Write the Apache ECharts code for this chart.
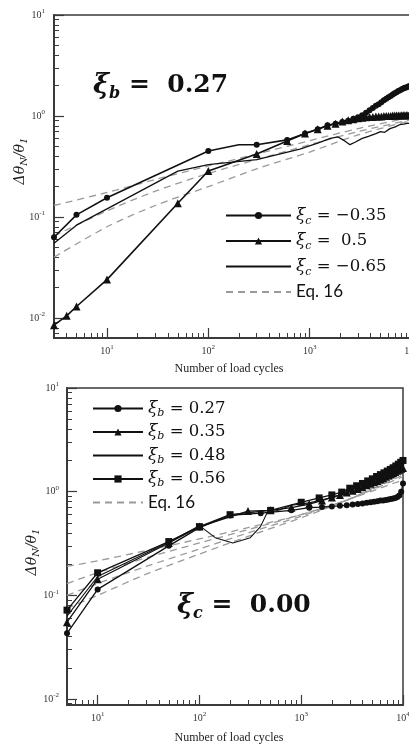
<!DOCTYPE html>
<html><head><meta charset="utf-8">
<script src="https://cdn.jsdelivr.net/npm/echarts@6/dist/echarts.min.js"></script>
<style>html,body{margin:0;padding:0;background:#fff}#c{width:409px;height:746px}</style>
</head><body><div id="c"></div>
<script>
// ---------- TOP PANEL (xi_b = 0.27) ----------
const topCircleN = [3,5,10,100,200,300,600,900,1200,1500,1800,2100,2400,2700,3000,3300,3600,3900,4200,4500,4800,5100,5400,5700,6000,6300,6600,6900,7200,7500,7800,8100,8400,8700,9000,9300,9600,9900];
const topCircleV = [0.063,0.105,0.155,0.45,0.52,0.52,0.58,0.67,0.74,0.81,0.84,0.87,0.9,0.94,0.97,1.02,1.08,1.14,1.2,1.26,1.31,1.37,1.43,1.48,1.53,1.58,1.63,1.68,1.72,1.77,1.8,1.84,1.87,1.9,1.92,1.95,1.97,2.0];
const topTriN = [3,4,5,10,50,100,300,600,900,1200,1500,1800,2100,2400,2700,3000,3300,3600,3900,4200,4500,4800,5100,5400,5700,6000,6300,6600,6900,7200,7500,7800,8100,8400,8700,9000,9300,9600,9900];
const topTriV = [0.0085,0.0105,0.013,0.024,0.137,0.285,0.42,0.565,0.67,0.74,0.8,0.84,0.88,0.91,0.93,0.95,0.96,0.97,0.98,0.98,0.99,0.99,0.99,1.0,1.0,1.0,1.0,1.01,1.01,1.01,1.01,1.01,1.02,1.02,1.02,1.02,1.02,1.02,1.02];
const topSolidN = [3,5,50,100,300,800,1200,1600,1900,2200,2500,2800,3300,3800,4500,5000,5500,6200,7000,7700,8500,9300,10000];
const topSolidV = [0.055,0.083,0.285,0.33,0.37,0.47,0.54,0.6,0.62,0.57,0.52,0.55,0.6,0.63,0.67,0.7,0.69,0.75,0.78,0.82,0.83,0.85,0.84];
const topEqN = [3,10,30,100,300,1000,3000,10000];
const topEqA = [0.13,0.175,0.235,0.32,0.42,0.57,0.75,0.97];
const topEqB = [0.065,0.115,0.18,0.27,0.37,0.52,0.70,0.92];
const topEqC = [0.04,0.08,0.13,0.2,0.3,0.44,0.65,0.9];

// ---------- BOTTOM PANEL (xi_c = 0.00) ----------
const botCircleN = [5,10,50,100,200,400,800,1200,1600,2000,2400,2800,3200,3600,4000,4400,4800,5200,5600,6000,6400,6800,7200,7600,8000,8400,8800,9200,9600,10000];
const botCircleV = [0.043,0.114,0.30,0.45,0.59,0.62,0.66,0.7,0.71,0.72,0.73,0.74,0.75,0.76,0.77,0.78,0.79,0.8,0.81,0.82,0.82,0.83,0.84,0.85,0.86,0.87,0.89,0.92,1.0,1.2];
const botTriN = [5,10,50,100,300,500,800,1200,1600,2000,2400,2800,3200,3600,4000,4400,4800,5200,5600,6000,6400,6800,7200,7600,8000,8400,8800,9200,9600,10000];
const botTriV = [0.055,0.143,0.32,0.46,0.65,0.66,0.7,0.76,0.82,0.88,0.93,0.98,1.02,1.06,1.1,1.15,1.19,1.23,1.27,1.31,1.35,1.39,1.43,1.47,1.51,1.55,1.59,1.63,1.66,1.69];
const botSolidN = [5,10,50,100,143,213,316,398,460,620,800,1200,2000,3000,4000,5000,6000,7000,8000,9000,10000];
const botSolidV = [0.063,0.152,0.325,0.47,0.36,0.32,0.36,0.46,0.62,0.67,0.74,0.78,0.88,1.0,1.1,1.2,1.3,1.4,1.5,1.62,1.8];
const botSquareN = [5,10,50,100,200,500,1000,1500,2000,2500,3000,3500,4000,4500,5000,5500,6000,6500,7000,7500,8000,8500,9000,9500,10000];
const botSquareV = [0.072,0.165,0.33,0.46,0.6,0.66,0.79,0.87,0.93,0.99,1.08,1.14,1.2,1.27,1.33,1.4,1.46,1.52,1.58,1.64,1.7,1.77,1.84,1.92,2.0];
const botEqN = [5,10,30,100,300,1000,3000,10000];
const botEq1 = [0.19,0.215,0.27,0.35,0.45,0.6,0.85,1.3];
const botEq2 = [0.13,0.165,0.23,0.32,0.43,0.6,0.85,1.4];
const botEq3 = [0.1,0.13,0.19,0.28,0.4,0.58,0.85,1.45];
const botEq4 = [0.075,0.1,0.16,0.25,0.37,0.56,0.85,1.5];

// ---------- ticks ----------
const xMajorTicks = [10,100,1000,10000];
const xMinorTicksTop = [3,4,5,6,7,8,9,20,30,40,50,60,70,80,90,200,300,400,500,600,700,800,900,2000,3000,4000,5000,6000,7000,8000,9000];
const xMinorTicksBot = [5,6,7,8,9,20,30,40,50,60,70,80,90,200,300,400,500,600,700,800,900,2000,3000,4000,5000,6000,7000,8000,9000];
const yMajorTicks = [0.01,0.1,1,10];
const yMinorTicks = [0.007,0.008,0.009,0.02,0.03,0.04,0.05,0.06,0.07,0.08,0.09,0.2,0.3,0.4,0.5,0.6,0.7,0.8,0.9,2,3,4,5,6,7,8,9];

const zip = (a,b) => a.map((v,i)=>[v,b[i]]);

const chart = echarts.init(document.getElementById('c'), null, {renderer:'canvas'});
const AX = '#3a3a3a';
const TK = '#3a3a3a';
const tickFmt = v => { const e = Math.round(Math.log10(v)); return '{b|10}{p|' + e + '}'; };
const tickRich = {
  b:{fontFamily:'Liberation Serif', fontSize:10, color:'#333', lineHeight:14},
  p:{fontFamily:'Liberation Serif', fontSize:7, color:'#333', lineHeight:8, verticalAlign:'top'}
};
const GRIDS = [
  {left:54, top:15, width:357, height:323, xmin:3, ymin:0.00634, ymargin:9, xminor:xMinorTicksTop},
  {left:67, top:388, width:336, height:317, xmin:5, ymin:0.00875, ymargin:8, xminor:xMinorTicksBot}
];

// Ticks point into the plot: tick-only axes sit on the opposite side, shifted back onto the frame edge.
function xAxes(g, gi){
  const base = {type:'log', gridIndex:gi, min:g.xmin, max:10000, logBase:10, splitLine:{show:false}};
  return [
    Object.assign({}, base, {position:'bottom',
     axisLine:{show:true, lineStyle:{color:AX, width:2}},
     axisTick:{show:false},
     axisLabel:{show:true, customValues:xMajorTicks, formatter:tickFmt, rich:tickRich, margin:6}}),
    Object.assign({}, base, {position:'top', offset:-g.height,
     axisLine:{show:false},
     axisTick:{show:true, length:10, customValues:xMajorTicks, lineStyle:{color:TK,width:1.2}},
     axisLabel:{show:false}}),
    Object.assign({}, base, {position:'top', offset:-g.height,
     axisLine:{show:false},
     axisTick:{show:true, length:5, customValues:g.xminor, lineStyle:{color:TK,width:1}},
     axisLabel:{show:false}})
  ];
}
function yAxes(g, gi){
  const base = {type:'log', gridIndex:gi, min:g.ymin, max:10, logBase:10, splitLine:{show:false}};
  return [
    Object.assign({}, base, {position:'left',
     axisLine:{show:true, lineStyle:{color:AX, width:2}},
     axisTick:{show:false},
     axisLabel:{show:true, customValues:yMajorTicks, formatter:tickFmt, rich:tickRich, margin:g.ymargin}}),
    Object.assign({}, base, {position:'right', offset:-g.width,
     axisLine:{show:false},
     axisTick:{show:true, length:10, customValues:yMajorTicks, lineStyle:{color:TK,width:1.2}},
     axisLabel:{show:false}}),
    Object.assign({}, base, {position:'right', offset:-g.width,
     axisLine:{show:false},
     axisTick:{show:true, length:5, customValues:yMinorTicks.filter(v=>v>=g.ymin), lineStyle:{color:TK,width:1}},
     axisLabel:{show:false}})
  ];
}

const black = '#111';
function markLine(name, grid, data, symbol, size, width){
  return {name:name, type:'line', xAxisIndex:grid*3, yAxisIndex:grid*3, data:data,
    symbol:symbol, symbolSize:size, showSymbol:true,
    lineStyle:{color:black, width:width}, itemStyle:{color:black},
    animation:false, z:3};
}
function eqLine(name, grid, data){
  return {name:name, type:'line', xAxisIndex:grid*3, yAxisIndex:grid*3, data:data,
    symbol:'none', smooth:0.3,
    lineStyle:{color:'#9a9a9a', width:1.3, type:[7,5]}, itemStyle:{color:'#9a9a9a'},
    animation:false, z:2};
}

const topCircleData = zip(topCircleN, topCircleV).map(p => p[0]===200 ? {value:p, symbol:'none'} : p);

const series = [
  markLine('tc1', 0, topCircleData, 'circle', 6, 1.6),
  markLine('tc2', 0, zip(topTriN, topTriV), 'triangle', 8, 1.6),
  markLine('tc3', 0, zip(topSolidN, topSolidV), 'none', 0, 1.3),
  eqLine('eqTop', 0, zip(topEqN, topEqA)),
  eqLine('eqTop', 0, zip(topEqN, topEqB)),
  eqLine('eqTop', 0, zip(topEqN, topEqC)),
  markLine('bc1', 1, zip(botCircleN, botCircleV), 'circle', 6, 1.3),
  markLine('bc2', 1, zip(botTriN, botTriV), 'triangle', 8, 1.3),
  markLine('bc3', 1, zip(botSolidN, botSolidV), 'none', 0, 1.1),
  markLine('bc4', 1, zip(botSquareN, botSquareV), 'rect', 7, 1.3),
  eqLine('eqBot', 1, zip(botEqN, botEq1)),
  eqLine('eqBot', 1, zip(botEqN, botEq2)),
  eqLine('eqBot', 1, zip(botEqN, botEq3)),
  eqLine('eqBot', 1, zip(botEqN, botEq4))
];

const legendLabels = {
  tc1:['c','−0.35'], tc2:['c',' 0.5'], tc3:['c','−0.65'],
  bc1:['b','0.27'], bc2:['b','0.35'], bc3:['b','0.48'], bc4:['b','0.56']
};
const legFmt = name => {
  if (name==='eqTop' || name==='eqBot') return '{e|Eq. 16}';
  const l = legendLabels[name];
  return '{x|ξ}{s|' + l[0] + '}{t| = ' + l[1] + '}';
};
function legRich(lh){
  return {
    x:{fontFamily:'DejaVu Serif', fontStyle:'italic', fontSize:17, lineHeight:lh, color:'#111'},
    s:{fontFamily:'DejaVu Serif', fontStyle:'italic', fontSize:11, lineHeight:12, verticalAlign:'bottom', color:'#111'},
    t:{fontFamily:'DejaVu Serif', fontSize:16.5, lineHeight:lh, color:'#111'},
    e:{fontFamily:'Lato', fontSize:17, lineHeight:lh, color:'#111'}
  };
}
const noSym = {opacity:0};

const bigRich = {
  x:{fontFamily:'DejaVu Serif', fontStyle:'italic', fontWeight:'bold', fontSize:27, lineHeight:32, fill:'#111'},
  s:{fontFamily:'DejaVu Serif', fontStyle:'italic', fontWeight:'bold', fontSize:16, lineHeight:16, verticalAlign:'bottom', fill:'#111'},
  t:{fontFamily:'DejaVu Serif', fontWeight:'bold', fontSize:25, lineHeight:32, fill:'#111'}
};
const yTitleRich = {
  a:{fontFamily:'DejaVu Serif', fontStyle:'italic', fontSize:14, lineHeight:18, fill:'#222'},
  s:{fontFamily:'DejaVu Serif', fontStyle:'italic', fontSize:10, lineHeight:10, verticalAlign:'bottom', fill:'#222'}
};

const option = {
  backgroundColor:'#fff',
  animation:false,
  grid:GRIDS.map(g => ({left:g.left, top:g.top, width:g.width, height:g.height, show:true, borderColor:AX, borderWidth:1.5,
    backgroundColor:'transparent', outerBoundsMode:'none', containLabel:false})),
  xAxis:[...xAxes(GRIDS[0], 0), ...xAxes(GRIDS[1], 1)],
  yAxis:[...yAxes(GRIDS[0], 0), ...yAxes(GRIDS[1], 1)],
  legend:[
    {data:['tc1','tc2',{name:'tc3', itemStyle:noSym},{name:'eqTop', itemStyle:noSym}], orient:'vertical', left:225, top:207, itemWidth:65, itemHeight:9, itemGap:6, padding:0,
     formatter:legFmt, textStyle:{rich:legRich(22)}, selectedMode:false},
    {data:['bc1','bc2',{name:'bc3', itemStyle:noSym},'bc4',{name:'eqBot', itemStyle:noSym}], orient:'vertical', left:92, top:400, itemWidth:50, itemHeight:9, itemGap:5, padding:0,
     formatter:legFmt, textStyle:{rich:legRich(20)}, selectedMode:false}
  ],
  graphic:[
    {type:'text', left:93, top:72, style:{text:'{x|ξ}{s|b}{t| =  0.27}', rich:bigRich}},
    {type:'text', left:177, top:592, style:{text:'{x|ξ}{s|c}{t| =  0.00}', rich:bigRich}},
    {type:'text', x:229, y:369, style:{text:'Number of load cycles', font:'12px "Liberation Serif"', fill:'#222', align:'center', verticalAlign:'middle'}},
    {type:'text', x:229, y:738, style:{text:'Number of load cycles', font:'12px "Liberation Serif"', fill:'#222', align:'center', verticalAlign:'middle'}},
    {type:'text', x:20, y:161, rotation:Math.PI/2, style:{text:'{a|Δθ}{s|N}{a|/θ}{s|1}', rich:yTitleRich, align:'center', verticalAlign:'middle'}},
    {type:'text', x:32, y:552, rotation:Math.PI/2, style:{text:'{a|Δθ}{s|N}{a|/θ}{s|1}', rich:yTitleRich, align:'center', verticalAlign:'middle'}}
  ],
  series:series
};
chart.setOption(option);
</script>
</body></html>
